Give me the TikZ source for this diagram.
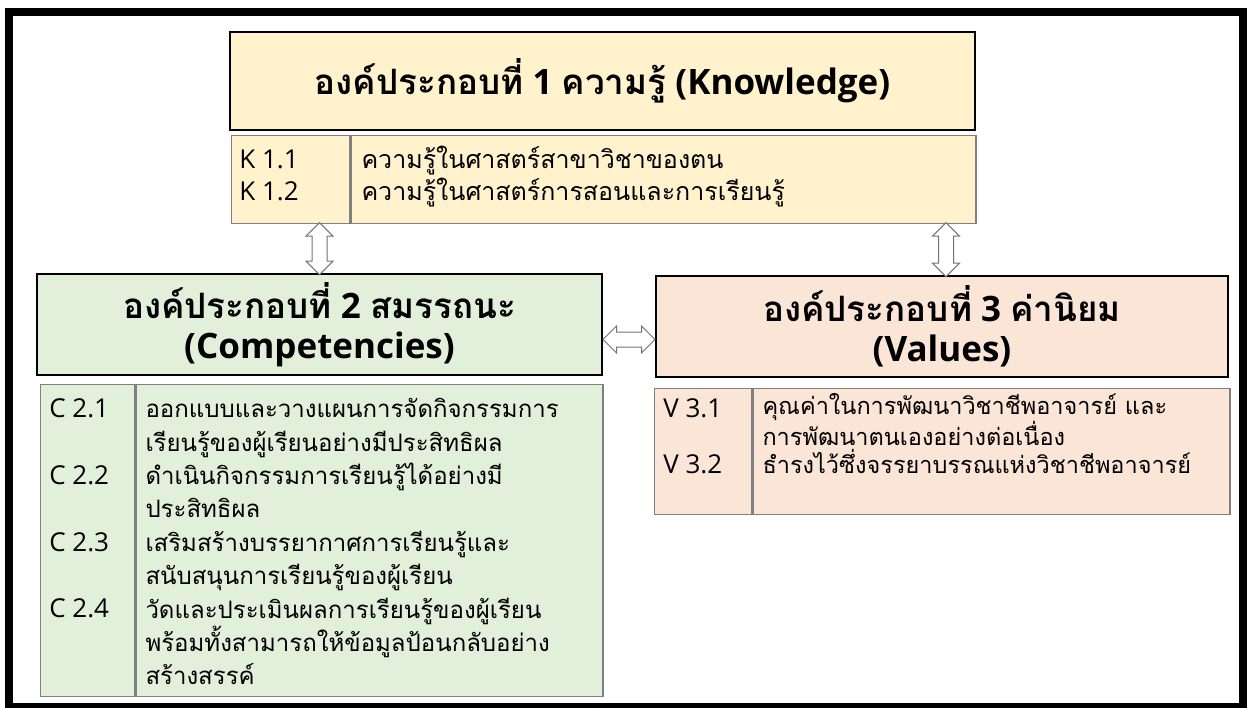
\documentclass[tikz,border=0pt]{standalone}
\usepackage{fontspec}
\setmainfont{Open Sans}
\newfontfamily\thaifont[Script=Thai]{Loma}
\usetikzlibrary{shapes.arrows,positioning}

\definecolor{kFill}{HTML}{FFF2CC}
\definecolor{cFill}{HTML}{E2EFDA}
\definecolor{vFill}{HTML}{FBE5D6}
\definecolor{cellLine}{HTML}{808080}

\newcommand{\thai}[1]{{\thaifont #1}}

\tikzstyle{headPart} = [draw, line width=1.8pt, inner sep=0pt, align=center, font=\fontsize{35}{40}\selectfont\bfseries]
\tikzstyle{cellPart} = [draw=cellLine, line width=1.2pt, inner sep=0pt, anchor=north west]
% base anchor sits on the last line
\tikzstyle{cellText} = [inner sep=0pt, anchor=base west, align=left, font=\fontsize{26}{33}\selectfont]
\tikzstyle{linkArrow} = [double arrow, draw=black!55, fill=white, line width=1pt, inner xsep=0pt, inner ysep=7pt, double arrow head extend=6pt]

\begin{document}
\begin{tikzpicture}[x=1pt, y=-1pt]
		\useasboundingbox (0,0) rectangle (1247,707);
		\draw[line width=8pt] (9,12) rectangle (1243,707);

		% Knowledge
		\node (kHead) [headPart, fill=kFill, minimum width=745pt, minimum height=98pt] at (602.5,81) {\thai{องค์ประกอบที่} 1 \thai{ความรู้} (Knowledge)};
		\path (kHead.south west)+(2,4) node (kLabCell) [cellPart, fill=kFill, minimum width=118pt, minimum height=88pt] {};
		\path (kLabCell.north east) node (kTextCell) [cellPart, fill=kFill, minimum width=625pt, minimum height=88pt] {};
		\path (kLabCell.north west)+(8,66) node (kLab) [cellText, font=\fontsize{26}{32}\selectfont] {K 1.1\\K 1.2};
		\path (kTextCell.north west)+(11,66) node (kText) [cellText, font=\fontsize{25}{32}\selectfont\thaifont] {ความรู้ในศาสตร์สาขาวิชาของตน\\ความรู้ในศาสตร์การสอนและการเรียนรู้};

		% Competencies
		\node (cHead) [headPart, fill=cFill, minimum width=565pt, minimum height=101pt] at (319.5,324.5) {\thai{องค์ประกอบที่} 2 \thai{สมรรถนะ}\\(Competencies)};
		\path (cHead.south west)+(4,8) node (cLabCell) [cellPart, fill=cFill, minimum width=94pt, minimum height=312pt] {};
		\path (cLabCell.north east) node (cTextCell) [cellPart, fill=cFill, minimum width=467pt, minimum height=312pt] {};
		\path (cLabCell.north west)+(9,234) node (cLab) [cellText, font=\fontsize{26}{33.4}\selectfont] {C 2.1\\[33.4pt]C 2.2\\[33.4pt]C 2.3\\[33.4pt]C 2.4};
		\path (cTextCell.north west)+(10,301) node (cText) [cellText, font=\fontsize{24}{33.4}\selectfont\thaifont] {ออกแบบและวางแผนการจัดกิจกรรมการ\\เรียนรู้ของผู้เรียนอย่างมีประสิทธิผล\\ดำเนินกิจกรรมการเรียนรู้ได้อย่างมี\\ประสิทธิผล\\เสริมสร้างบรรยากาศการเรียนรู้และ\\สนับสนุนการเรียนรู้ของผู้เรียน\\วัดและประเมินผลการเรียนรู้ของผู้เรียน\\พร้อมทั้งสามารถให้ข้อมูลป้อนกลับอย่าง\\สร้างสรรค์};

		% Values
		\node (vHead) [headPart, fill=vFill, minimum width=572pt, minimum height=101pt] at (942,326.5) {\thai{องค์ประกอบที่} 3 \thai{ค่านิยม}\\(Values)};
		\path (vHead.south west)+(-1,10) node (vLabCell) [cellPart, fill=vFill, minimum width=97pt, minimum height=126pt] {};
		\path (vLabCell.north east) node (vTextCell) [cellPart, fill=vFill, minimum width=477pt, minimum height=126pt] {};
		\path (vLabCell.north west)+(9,86) node (vLab) [cellText, font=\fontsize{26}{28}\selectfont] {V 3.1\\[28pt]V 3.2};
		\path (vTextCell.north west)+(10,86) node (vText) [cellText, font=\fontsize{23.5}{28}\selectfont\thaifont] {คุณค่าในการพัฒนาวิชาชีพอาจารย์ และ\\การพัฒนาตนเองอย่างต่อเนื่อง\\ธำรงไว้ซึ่งจรรยาบรรณแห่งวิชาชีพอาจารย์};

		% Links
		\path (kLabCell.south -| cHead.north) -- (cHead.north) node [midway, linkArrow, rotate=90, minimum height=52pt] (kcLink) {};
		\path (kTextCell.south -| vHead.north) -- (vHead.north) node [midway, xshift=4pt, linkArrow, rotate=90, minimum height=54pt] (kvLink) {};
		\path ([yshift=-14pt]cHead.east) -- ([yshift=-14pt]vHead.west) node [midway, linkArrow, minimum height=52pt] (cvLink) {};
\end{tikzpicture}
\end{document}
